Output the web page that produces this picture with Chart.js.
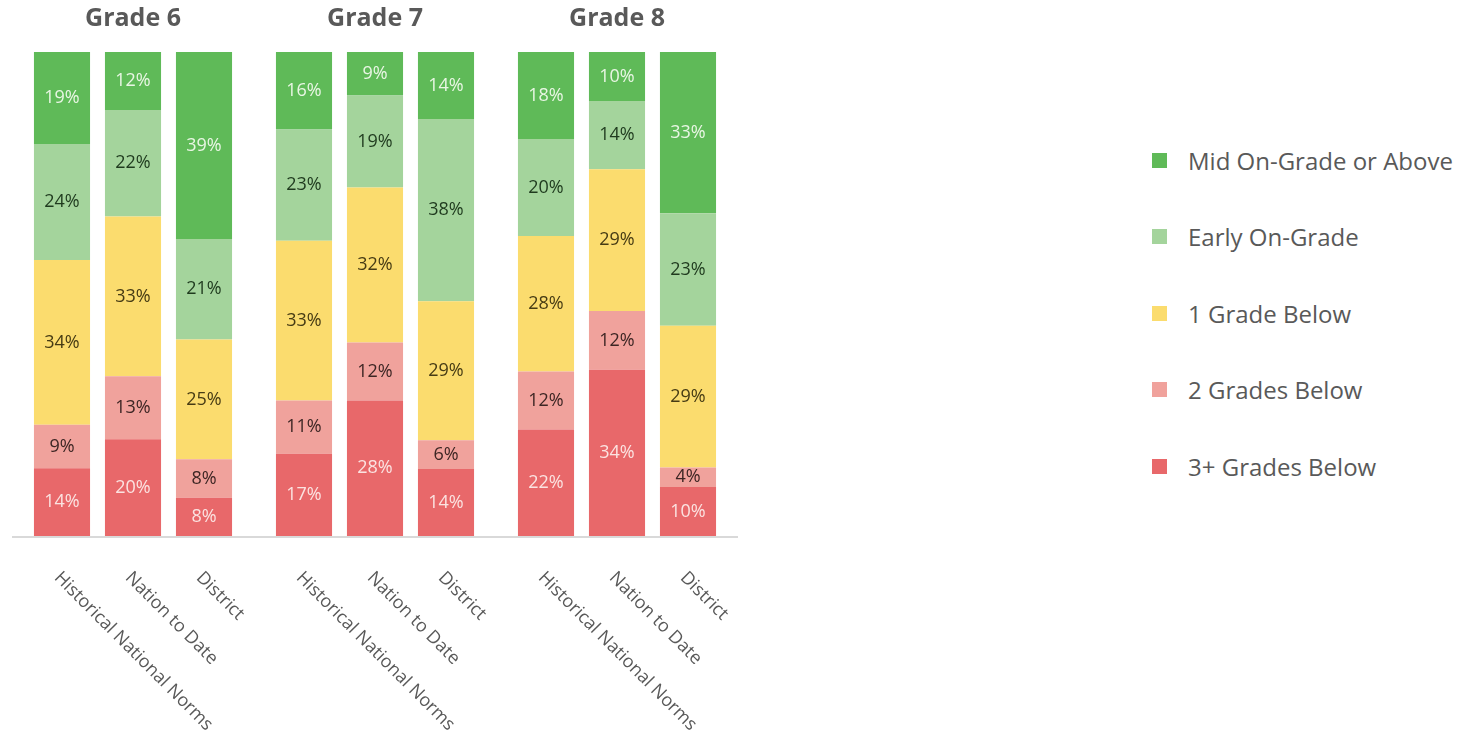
<!DOCTYPE html>
<html>
<head>
<meta charset="utf-8">
<script src="https://cdn.jsdelivr.net/npm/chart.js@4.4.1/dist/chart.umd.min.js"></script>
<style>
  html, body { margin: 0; padding: 0; background: #fff; }
  #wrap { position: relative; width: 1478px; height: 739px; overflow: hidden; font-family: "Open Sans", sans-serif; }
  .box { position: absolute; top: 0; width: 242px; height: 739px; }
  #legend { position: absolute; left: 1152px; top: 140px; }
  .item { display: flex; align-items: center; height: 40px; margin-bottom: 36.5px; color: #595959; font-size: 24px; }
  .swatch { width: 15px; height: 15px; margin-right: 21px; }
</style>
</head>
<body>
<div id="wrap">
  <div class="box" style="left:12px"><canvas id="g6"></canvas></div>
  <div class="box" style="left:254px"><canvas id="g7"></canvas></div>
  <div class="box" style="left:496px"><canvas id="g8"></canvas></div>
  <div id="legend"></div>
</div>
<script>
// chart data
const grades = ["Grade 6", "Grade 7", "Grade 8"];
const groups = ["Historical National Norms", "Nation to Date", "District"];

// one value per bar: G6 (HNN, NtD, District), G7 (...), G8 (...)
const threePlusBelow = [14, 20, 8, 17, 28, 14, 22, 34, 10];
const twoBelow = [9, 13, 8, 11, 12, 6, 12, 12, 4];
const oneBelow = [34, 33, 25, 33, 32, 29, 28, 29, 29];
const earlyOnGrade = [24, 22, 21, 23, 19, 38, 20, 14, 23];
const midOnGrade = [19, 12, 39, 16, 9, 14, 18, 10, 33];

// bottom to top
const series = [
  { name: "3+ Grades Below", values: threePlusBelow, color: "#e8686a", text: "#fbe3e1" },
  { name: "2 Grades Below", values: twoBelow, color: "#f0a29c", text: "#3d2624" },
  { name: "1 Grade Below", values: oneBelow, color: "#fbdc6e", text: "#463b14" },
  { name: "Early On-Grade", values: earlyOnGrade, color: "#a4d49c", text: "#1f3a1e" },
  { name: "Mid On-Grade or Above", values: midOnGrade, color: "#5fba58", text: "#e9f6e4" }
];

const font = "'Open Sans', sans-serif";

// bar labels drawn in the middle of each segment
const segmentLabels = {
  id: "segmentLabels",
  afterDatasetsDraw(chart) {
    const ctx = chart.ctx;
    ctx.save();
    ctx.font = "18px " + font;
    ctx.textAlign = "center";
    ctx.textBaseline = "middle";
    chart.data.datasets.forEach((ds, i) => {
      chart.getDatasetMeta(i).data.forEach((bar, j) => {
        ctx.fillStyle = ds.labelColor;
        ctx.fillText(ds.raw[j] + "%", bar.x, (bar.y + bar.base) / 2);
      });
    });
    ctx.restore();
  }
};

// baseline across the whole canvas + slanted category labels
const axisDecor = {
  id: "axisDecor",
  afterDraw(chart) {
    const ctx = chart.ctx;
    const area = chart.chartArea;
    const x = chart.scales.x;
    ctx.save();
    ctx.strokeStyle = "#d9d9d9";
    ctx.lineWidth = 2;
    ctx.beginPath();
    ctx.moveTo(0, area.bottom + 1);
    ctx.lineTo(chart.width, area.bottom + 1);
    ctx.stroke();

    ctx.fillStyle = "#595959";
    ctx.font = "18px " + font;
    ctx.textAlign = "left";
    ctx.textBaseline = "middle";
    chart.data.labels.forEach((lab, i) => {
      ctx.save();
      ctx.translate(x.getPixelForValue(i) - 5, area.bottom + 39);
      ctx.rotate(Math.PI / 4);
      ctx.fillText(lab, 0, 0);
      ctx.restore();
    });
    ctx.restore();
  }
};

grades.forEach((grade, g) => {
  const idx = [0, 1, 2].map(k => g * 3 + k);
  const totals = idx.map(i => series.reduce((s, ser) => s + ser.values[i], 0));
  new Chart(document.getElementById("g" + (g + 6)), {
    type: "bar",
    data: {
      labels: groups,
      datasets: series.map(ser => ({
        label: ser.name,
        raw: idx.map(i => ser.values[i]),
        // 100% stacked: each bar scaled to its own total
        data: idx.map((i, k) => ser.values[i] / totals[k] * 100),
        backgroundColor: ser.color,
        labelColor: ser.text,
        borderWidth: 0,
        categoryPercentage: 1,
        barPercentage: 0.79
      }))
    },
    options: {
      responsive: true,
      maintainAspectRatio: false,
      animation: false,
      layout: { padding: { left: 14.5, right: 14.5, top: 0, bottom: 203 } },
      plugins: {
        legend: { display: false },
        tooltip: { enabled: false },
        title: {
          display: true,
          text: grade,
          color: "#595959",
          font: { family: font, size: 25, weight: "bold" },
          padding: { top: 4, bottom: 18 }
        }
      },
      scales: {
        x: { stacked: true, display: false },
        y: { stacked: true, display: false, min: 0, max: 100 }
      }
    },
    plugins: [segmentLabels, axisDecor]
  });
});

// legend, top to bottom
const legend = document.getElementById("legend");
series.slice().reverse().forEach(ser => {
  const row = document.createElement("div");
  row.className = "item";
  const sw = document.createElement("span");
  sw.className = "swatch";
  sw.style.background = ser.color;
  const txt = document.createElement("span");
  txt.textContent = ser.name;
  row.appendChild(sw);
  row.appendChild(txt);
  legend.appendChild(row);
});
</script>
</body>
</html>
